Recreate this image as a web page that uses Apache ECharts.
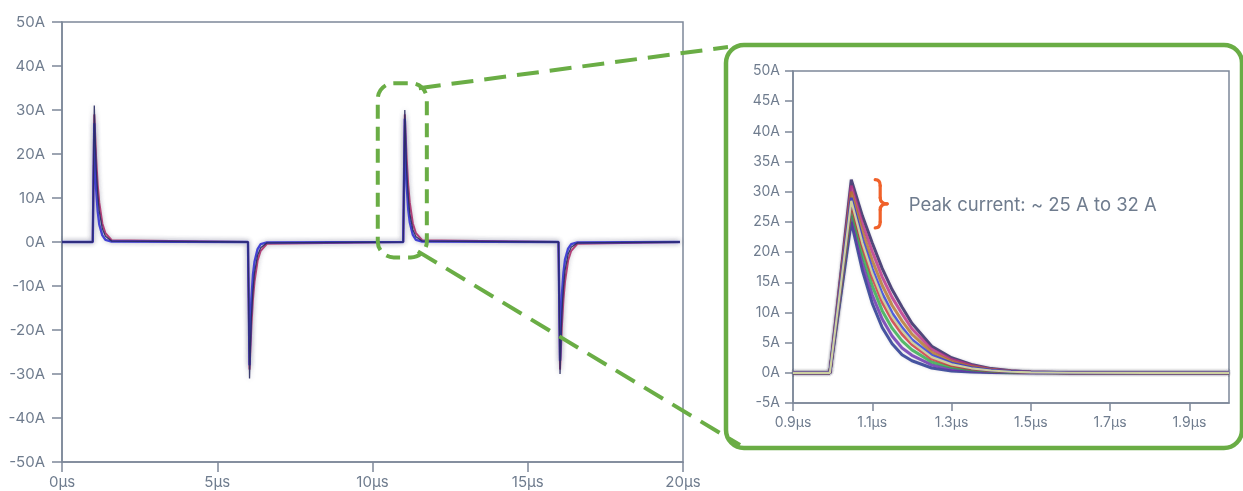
<!DOCTYPE html>
<html><head><meta charset="utf-8">
<script src="https://cdn.jsdelivr.net/npm/echarts@6/dist/echarts.min.js"></script>
<style>html,body{margin:0;padding:0;background:#fff}#c{width:1243px;height:491px}</style>
</head><body><div id="c"></div><script>
// ---- Tick labels ----
const mainXTicks = [0, 5, 10, 15, 20];
const mainYTicks = [-50, -40, -30, -20, -10, 0, 10, 20, 30, 40, 50];
const zoomXTicks = [0.9, 1.1, 1.3, 1.5, 1.7, 1.9];
const zoomYTicks = [-5, 0, 5, 10, 15, 20, 25, 30, 35, 40, 45, 50];

// ---- Main chart (µs, A) ----
const mainTime = [0, 0.99, 1.04, 1.07, 1.1, 1.15, 1.2, 1.3, 1.4, 1.6,
  5.99, 6.04, 6.07, 6.1, 6.15, 6.2, 6.3, 6.4, 6.6,
  10.99, 11.04, 11.07, 11.1, 11.15, 11.2, 11.3, 11.4, 11.6,
  15.99, 16.04, 16.07, 16.1, 16.15, 16.2, 16.3, 16.4, 16.6,
  19.9];
const mainNavy = [0, 0, 31, 23, 17, 11, 7, 3, 1.3, 0.2,
  0, -31, -23, -17, -11, -7, -3, -1.3, -0.2,
  0, 30, 22, 16, 10.5, 6.5, 2.8, 1.2, 0.2,
  0, -30, -22, -16, -10.5, -6.5, -2.8, -1.2, -0.2,
  0];
const mainBlue = [0, 0, 27, 18, 12, 7, 4, 1.5, 0.5, 0.1,
  0, -28, -19, -13, -7.5, -4.5, -1.6, -0.5, -0.1,
  0, 28, 19, 13, 7.5, 4.5, 1.6, 0.5, 0.1,
  0, -27, -18, -12, -7, -4, -1.5, -0.5, -0.1,
  0];
const mainMagenta = [0, 0, 29, 24, 19, 13, 9, 4.2, 2, 0.4,
  0, -29, -24, -19, -13, -9, -4.2, -2, -0.4,
  0, 29, 24, 19, 13, 9, 4.2, 2, 0.4,
  0, -29, -24, -19, -13, -9, -4.2, -2, -0.4,
  0];

// ---- Zoomed chart (µs, A) ----
const zoomTime = [0.9, 0.993, 1.047, 1.075, 1.1, 1.125, 1.15, 1.175, 1.2, 1.25, 1.3, 1.35, 1.4, 1.45, 1.5, 1.6, 1.8, 2.0];
const zoomRun1 = [0, 0, 25, 17, 11.5, 7.5, 4.8, 3.0, 2.0, 0.8, 0.3, 0.12, 0.05, 0.02, 0, 0, 0, 0];
const zoomRun2 = [0, 0, 26, 18.3, 12.9, 8.9, 6.1, 4.1, 2.9, 1.3, 0.6, 0.3, 0.14, 0.07, 0.02, 0, 0, 0];
const zoomRun3 = [0, 0, 27, 19.6, 14.4, 10.3, 7.4, 5.3, 3.8, 1.8, 0.9, 0.5, 0.24, 0.11, 0.04, 0.01, 0, 0];
const zoomRun4 = [0, 0, 28, 20.9, 15.8, 11.7, 8.7, 6.4, 4.7, 2.3, 1.2, 0.67, 0.33, 0.16, 0.06, 0.01, 0, 0];
const zoomRun5 = [0, 0, 29, 22.1, 17.2, 13.1, 9.9, 7.5, 5.5, 2.9, 1.6, 0.85, 0.42, 0.21, 0.09, 0.02, 0, 0];
const zoomRun6 = [0, 0, 30, 23.4, 18.6, 14.5, 11.2, 8.6, 6.4, 3.4, 1.9, 1.03, 0.51, 0.26, 0.11, 0.02, 0, 0];
const zoomRun7 = [0, 0, 31, 24.7, 20.1, 15.9, 12.5, 9.8, 7.3, 3.9, 2.2, 1.22, 0.61, 0.3, 0.13, 0.03, 0, 0];
const zoomRun8 = [0, 0, 32, 26, 21.5, 17.3, 13.8, 10.9, 8.2, 4.4, 2.5, 1.4, 0.7, 0.35, 0.15, 0.03, 0, 0];
const zoomRun9 = [0, 0, 28.5, 21.5, 16.5, 12.4, 9.3, 7.0, 5.1, 2.6, 1.4, 0.75, 0.38, 0.18, 0.07, 0.01, 0, 0];

const annotationText = 'Peak current: ~ 25 A to 32 A';

// ---- Build ----
const TEXT = '#6f7c8e';
const AXIS = '#7d8899';
const GREEN = '#6aad45';
const ORANGE = '#f0612a';
const FONT = 'Inter, "Noto Sans", sans-serif';
const zip = (xs, ys) => xs.map((x, i) => [x, ys[i]]);

const chart = echarts.init(document.getElementById('c'), null, {renderer: 'canvas'});

const mainSeriesDefs = [
  {data: mainMagenta, color: '#b8306e', width: 2},
  {data: mainBlue, color: '#3434d6', width: 2.4},
  {data: mainNavy, color: '#2a2d62', width: 1.3}
];
const zoomSeriesDefs = [
  {data: zoomRun1, color: '#1e2f8f', blur: 3},
  {data: zoomRun8, color: '#2b1f60', blur: 3},
  {data: zoomRun2, color: '#6a2fb0', blur: 3},
  {data: zoomRun7, color: '#c0308a', blur: 3},
  {data: zoomRun3, color: '#2fae4a', blur: 3},
  {data: zoomRun6, color: '#b8752a', blur: 3},
  {data: zoomRun4, color: '#d0353a', blur: 3},
  {data: zoomRun5, color: '#2a3ad8', blur: 3},
  {data: zoomRun9, color: '#cdd0a0', blur: 0}
];

const series = [];
mainSeriesDefs.forEach(d => series.push({
  type: 'line', xAxisIndex: 0, yAxisIndex: 0, showSymbol: false, symbol: 'none',
  data: zip(mainTime, d.data), animation: false,
  lineStyle: {color: d.color, width: d.width, opacity: 0.92, shadowBlur: 5, shadowColor: 'rgba(90,90,120,0.35)'}
}));
zoomSeriesDefs.forEach(d => series.push({
  type: 'line', xAxisIndex: 1, yAxisIndex: 1, showSymbol: false, symbol: 'none',
  data: zip(zoomTime, d.data), animation: false,
  lineStyle: {color: d.color, width: d.blur ? 3 : 2.2, opacity: d.blur ? 0.8 : 1,
    shadowBlur: d.blur, shadowColor: 'rgba(90,90,110,0.25)'}
}));

const axisCommon = {
  axisLine: {show: true, onZero: false, lineStyle: {color: AXIS, width: 1.5}},
  axisTick: {show: true, inside: false, lineStyle: {color: AXIS, width: 1.5}},
  splitLine: {show: false},
  axisLabel: {color: TEXT, fontFamily: FONT}
};

const option = {
  backgroundColor: '#ffffff',
  animation: false,
  grid: [
    {left: 62, top: 22, width: 621, height: 440, show: true, borderColor: AXIS, borderWidth: 1.5, containLabel: false},
    {left: 793, top: 71, width: 436, height: 332, show: true, borderColor: AXIS, borderWidth: 1.5, containLabel: false}
  ],
  xAxis: [
    {type: 'value', gridIndex: 0, min: mainXTicks[0], max: mainXTicks[mainXTicks.length - 1],
      interval: mainXTicks[1] - mainXTicks[0],
      axisLine: axisCommon.axisLine, splitLine: axisCommon.splitLine,
      axisTick: Object.assign({length: 10}, axisCommon.axisTick),
      axisLabel: Object.assign({}, axisCommon.axisLabel, {fontSize: 15, margin: 13, formatter: v => v + 'μs'})},
    {type: 'value', gridIndex: 1, min: 0.9, max: 2.0,
      axisLine: axisCommon.axisLine, splitLine: axisCommon.splitLine,
      axisTick: Object.assign({length: 8, customValues: zoomXTicks}, axisCommon.axisTick),
      axisLabel: Object.assign({}, axisCommon.axisLabel, {fontSize: 14, margin: 13, customValues: zoomXTicks,
        formatter: v => (+v).toFixed(1) + 'μs'})}
  ],
  yAxis: [
    {type: 'value', gridIndex: 0, min: mainYTicks[0], max: mainYTicks[mainYTicks.length - 1],
      interval: mainYTicks[1] - mainYTicks[0],
      axisLine: axisCommon.axisLine, splitLine: axisCommon.splitLine,
      axisTick: Object.assign({length: 10}, axisCommon.axisTick),
      axisLabel: Object.assign({}, axisCommon.axisLabel, {fontSize: 15, margin: 17, formatter: v => v + 'A'})},
    {type: 'value', gridIndex: 1, min: zoomYTicks[0], max: zoomYTicks[zoomYTicks.length - 1],
      interval: zoomYTicks[1] - zoomYTicks[0],
      axisLine: axisCommon.axisLine, splitLine: axisCommon.splitLine,
      axisTick: Object.assign({length: 8}, axisCommon.axisTick),
      axisLabel: Object.assign({}, axisCommon.axisLabel, {fontSize: 14, margin: 13, formatter: v => v + 'A'})}
  ],
  series: series
};
chart.setOption(option);

// ---- Decorations anchored to the axes ----
const px0 = (x, y) => chart.convertToPixel({gridIndex: 0}, [x, y]);
const px1 = (x, y) => chart.convertToPixel({gridIndex: 1}, [x, y]);

const r0a = px0(10.17, 36.1), r0b = px0(11.75, -3.5);
const g1a = px1(0.9, 50), g1b = px1(2.0, -5);
const boxL = g1a[0] - 67, boxT = g1a[1] - 26, boxR = 1242, boxB = g1b[1] + 45;

const bTop = px1(1.12, 32), bBot = px1(1.12, 24);
const bx = bTop[0], by0 = bTop[1], by1 = bBot[1], bm = (by0 + by1) / 2;
const braceStyle = {fill: 'none', stroke: ORANGE, lineWidth: 3.2, lineCap: 'round'};
const braceParts = [
  {type: 'bezierCurve', shape: {x1: bx - 5, y1: by0, cpx1: bx, cpy1: by0, x2: bx, y2: by0 + 6}},
  {type: 'line', shape: {x1: bx, y1: by0 + 6, x2: bx, y2: bm - 6}},
  {type: 'bezierCurve', shape: {x1: bx, y1: bm - 6, cpx1: bx, cpy1: bm, x2: bx + 7, y2: bm}},
  {type: 'bezierCurve', shape: {x1: bx + 7, y1: bm, cpx1: bx, cpy1: bm, x2: bx, y2: bm + 6}},
  {type: 'line', shape: {x1: bx, y1: bm + 6, x2: bx, y2: by1 - 6}},
  {type: 'bezierCurve', shape: {x1: bx, y1: by1 - 6, cpx1: bx, cpy1: by1, x2: bx - 5, y2: by1}}
].map(p => Object.assign(p, {silent: true, z: 100, style: braceStyle}));
const tPos = px1(1.192, 27.8);

chart.setOption({
  graphic: [
    {type: 'rect', silent: true, z: 100,
      shape: {x: r0a[0], y: r0a[1], width: r0b[0] - r0a[0], height: r0b[1] - r0a[1], r: 16},
      style: {fill: 'none', stroke: GREEN, lineWidth: 4, lineDash: [14, 8]}},
    {type: 'line', silent: true, z: 100,
      shape: {x1: r0b[0] - 8, y1: r0a[1] + 5, x2: boxL + 2, y2: boxT + 2},
      style: {stroke: GREEN, lineWidth: 4, lineDash: [22, 11]}},
    {type: 'line', silent: true, z: 100,
      shape: {x1: r0b[0] - 9, y1: r0b[1] - 6, x2: boxL + 14, y2: boxB - 3},
      style: {stroke: GREEN, lineWidth: 4, lineDash: [22, 11]}},
    {type: 'rect', silent: true, z: 100,
      shape: {x: boxL, y: boxT, width: boxR - boxL, height: boxB - boxT, r: 18},
      style: {fill: 'none', stroke: GREEN, lineWidth: 4.5}}
  ].concat(braceParts).concat([
    {type: 'text', silent: true, z: 100, x: tPos[0], y: tPos[1],
      style: {text: annotationText, fill: TEXT, fontSize: 18.5, fontFamily: FONT, verticalAlign: 'middle', align: 'left'}}
  ])
});
</script></body></html>
